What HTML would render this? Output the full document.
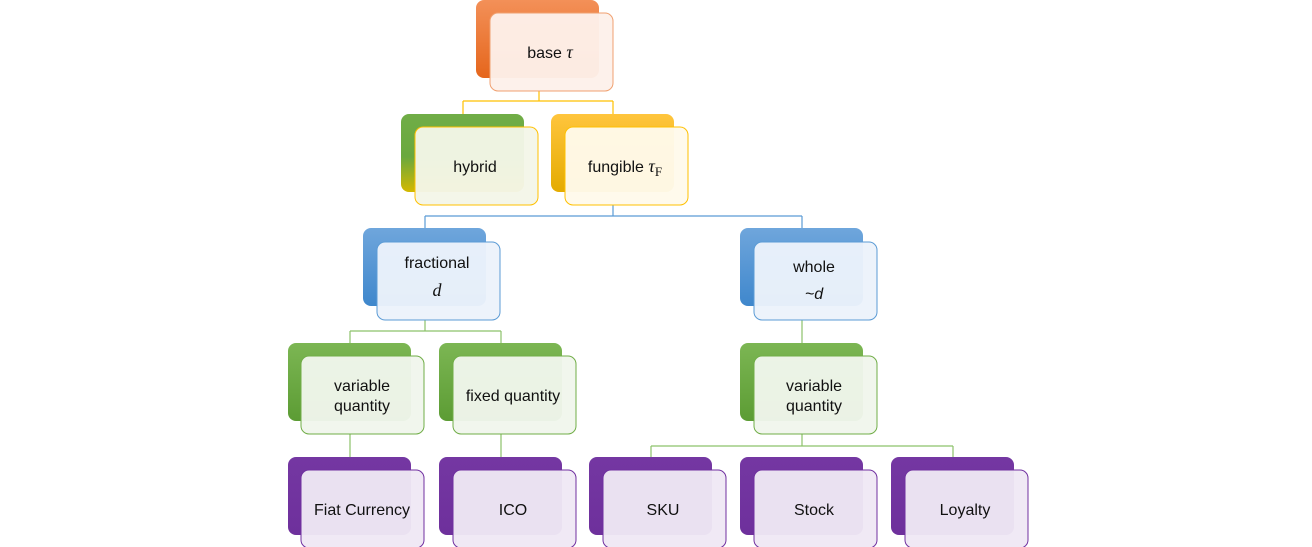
<!DOCTYPE html>
<html><head><meta charset="utf-8"><style>
html,body{margin:0;padding:0;background:#fff;}
svg{display:block;}
text{font-family:"Liberation Sans",sans-serif;font-size:16px;fill:#111;text-anchor:middle;}
.m{font-family:"Liberation Serif",serif;font-style:italic;font-size:18px;}
</style></head><body>
<svg width="1312" height="547" viewBox="0 0 1312 547" xmlns="http://www.w3.org/2000/svg">
<defs>
<linearGradient id="go" x1="0" y1="0" x2="0" y2="1"><stop offset="0" stop-color="#f39058"/><stop offset="1" stop-color="#e5661c"/></linearGradient>
<linearGradient id="gh" x1="0" y1="0" x2="0" y2="1"><stop offset="0" stop-color="#70ad47"/><stop offset="0.55" stop-color="#6aa83e"/><stop offset="1" stop-color="#d4b800"/></linearGradient>
<linearGradient id="gy" x1="0" y1="0" x2="0" y2="1"><stop offset="0" stop-color="#ffc53d"/><stop offset="1" stop-color="#e4ab00"/></linearGradient>
<linearGradient id="gb" x1="0" y1="0" x2="0" y2="1"><stop offset="0" stop-color="#6fa6dc"/><stop offset="1" stop-color="#3f87cc"/></linearGradient>
<linearGradient id="gg" x1="0" y1="0" x2="0" y2="1"><stop offset="0" stop-color="#7cb653"/><stop offset="1" stop-color="#5c9c34"/></linearGradient>
<linearGradient id="gp" x1="0" y1="0" x2="0" y2="1"><stop offset="0" stop-color="#7437a2"/><stop offset="1" stop-color="#6e309c"/></linearGradient>
</defs>
<g fill="none" stroke-width="1.2">
<path d="M539 91V101M463 101H613M463 101V114M613 101V114" stroke="#ffc000"/>
<path d="M613 205V216M425 216H802M425 216V228M802 216V228" stroke="#5b9bd5"/>
<path d="M425 320V331M350 331H501M350 331V343M501 331V343M802 320V343" stroke="#8cc26a"/>
<path d="M350 434V457M501 434V457M802 434V446M651 446H953M651 446V457M953 446V457" stroke="#8cc26a"/>
</g>
<g>
<rect x="476" y="0" width="123" height="78" rx="8" fill="url(#go)"/>
<rect x="490" y="13" width="123" height="78" rx="8" fill="#fdf0ea" fill-opacity="0.96" stroke="#f0a070"/>
<text x="550" y="58">base <tspan class="m">τ</tspan></text>

<rect x="401" y="114" width="123" height="78" rx="8" fill="url(#gh)"/>
<rect x="415" y="127" width="123" height="78" rx="8" fill="#f4f6e8" fill-opacity="0.96" stroke="#ffc000"/>
<text x="475" y="172">hybrid</text>

<rect x="551" y="114" width="123" height="78" rx="8" fill="url(#gy)"/>
<rect x="565" y="127" width="123" height="78" rx="8" fill="#fffaeb" fill-opacity="0.96" stroke="#ffc000"/>
<text x="625" y="172">fungible <tspan class="m">τ</tspan><tspan font-family="Liberation Serif" font-size="13" dy="4">F</tspan></text>

<rect x="363" y="228" width="123" height="78" rx="8" fill="url(#gb)"/>
<rect x="377" y="242" width="123" height="78" rx="8" fill="#ecf3fb" fill-opacity="0.96" stroke="#5b9bd5"/>
<text x="437" y="268">fractional</text>
<text x="437" y="296" class="m">d</text>

<rect x="740" y="228" width="123" height="78" rx="8" fill="url(#gb)"/>
<rect x="754" y="242" width="123" height="78" rx="8" fill="#ecf3fb" fill-opacity="0.96" stroke="#5b9bd5"/>
<text x="814" y="272">whole</text>
<text x="814" y="299" font-style="italic">~d</text>

<rect x="288" y="343" width="123" height="78" rx="8" fill="url(#gg)"/>
<rect x="301" y="356" width="123" height="78" rx="8" fill="#f0f6ec" fill-opacity="0.96" stroke="#70ad47"/>
<text x="362" y="391">variable</text>
<text x="362" y="411">quantity</text>

<rect x="439" y="343" width="123" height="78" rx="8" fill="url(#gg)"/>
<rect x="453" y="356" width="123" height="78" rx="8" fill="#f0f6ec" fill-opacity="0.96" stroke="#70ad47"/>
<text x="513" y="401">fixed quantity</text>

<rect x="740" y="343" width="123" height="78" rx="8" fill="url(#gg)"/>
<rect x="754" y="356" width="123" height="78" rx="8" fill="#f0f6ec" fill-opacity="0.96" stroke="#70ad47"/>
<text x="814" y="391">variable</text>
<text x="814" y="411">quantity</text>

<rect x="288" y="457" width="123" height="78" rx="8" fill="url(#gp)"/>
<rect x="301" y="470" width="123" height="78" rx="8" fill="#efe8f5" fill-opacity="0.96" stroke="#7030a0"/>
<text x="362" y="515">Fiat Currency</text>

<rect x="439" y="457" width="123" height="78" rx="8" fill="url(#gp)"/>
<rect x="453" y="470" width="123" height="78" rx="8" fill="#efe8f5" fill-opacity="0.96" stroke="#7030a0"/>
<text x="513" y="515">ICO</text>

<rect x="589" y="457" width="123" height="78" rx="8" fill="url(#gp)"/>
<rect x="603" y="470" width="123" height="78" rx="8" fill="#efe8f5" fill-opacity="0.96" stroke="#7030a0"/>
<text x="663" y="515">SKU</text>

<rect x="740" y="457" width="123" height="78" rx="8" fill="url(#gp)"/>
<rect x="754" y="470" width="123" height="78" rx="8" fill="#efe8f5" fill-opacity="0.96" stroke="#7030a0"/>
<text x="814" y="515">Stock</text>

<rect x="891" y="457" width="123" height="78" rx="8" fill="url(#gp)"/>
<rect x="905" y="470" width="123" height="78" rx="8" fill="#efe8f5" fill-opacity="0.96" stroke="#7030a0"/>
<text x="965" y="515">Loyalty</text>
</g>
</svg>
</body></html>
